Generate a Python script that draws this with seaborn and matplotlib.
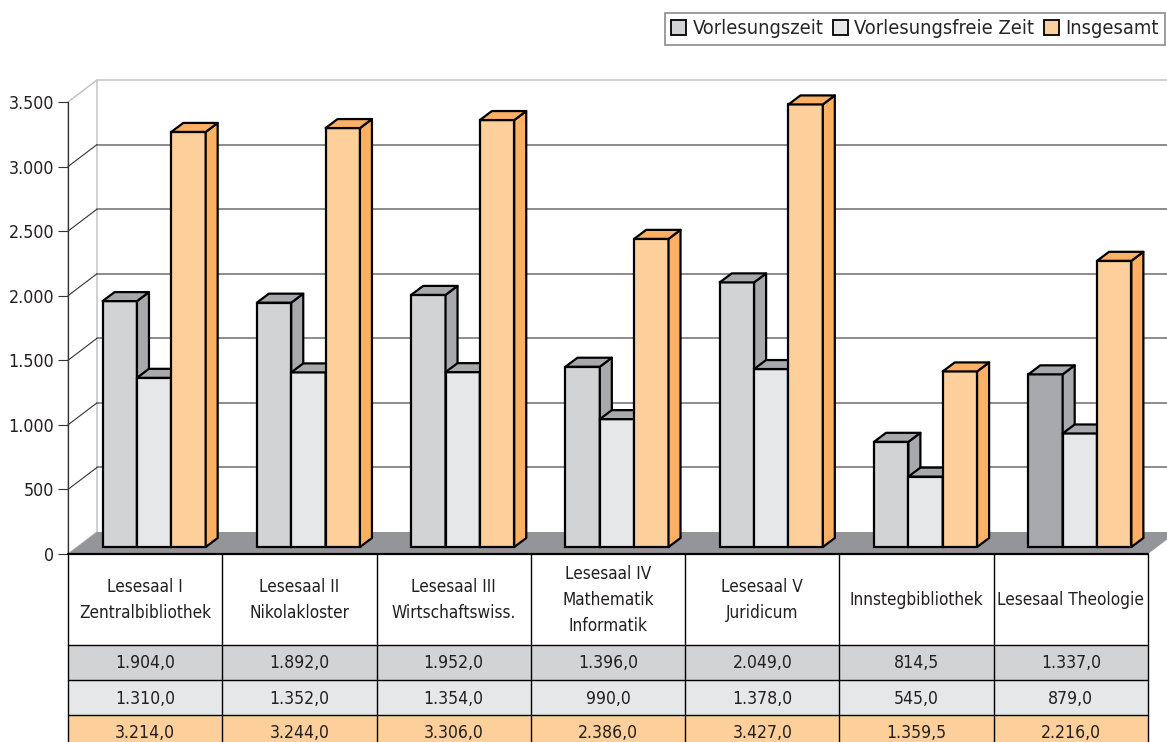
#!/usr/bin/env python3
"""
Lesesaal-Nutzung: Vorlesungszeit / vorlesungsfreie Zeit / insgesamt,
3D-Saeulen im Excel-Stil mit Datentabelle darunter
"""

import numpy as np
import pandas as pd
import matplotlib
matplotlib.use("Agg")
import matplotlib.pyplot as plt
from matplotlib.patches import Polygon, Patch, Rectangle
from matplotlib.ticker import FuncFormatter
import seaborn as sns

# data
categories = [
    "Lesesaal I\nZentralbibliothek",
    "Lesesaal II\nNikolakloster",
    "Lesesaal III\nWirtschaftswiss.",
    "Lesesaal IV\nMathematik\nInformatik",
    "Lesesaal V\nJuridicum",
    "Innstegbibliothek",
    "Lesesaal Theologie",
]
series = ["Vorlesungszeit", "Vorlesungsfreie Zeit", "Insgesamt"]
vorlesungszeit = [1904.0, 1892.0, 1952.0, 1396.0, 2049.0, 814.5, 1337.0]
vorlesungsfrei = [1310.0, 1352.0, 1354.0, 990.0, 1378.0, 545.0, 879.0]
insgesamt = [3214.0, 3244.0, 3306.0, 2386.0, 3427.0, 1359.5, 2216.0]
y_ticks = [0, 500, 1000, 1500, 2000, 2500, 3000, 3500]

front_colors = ["#d1d3d4", "#e6e7e8", "#fdd09b"]
shade_colors = ["#a7a9ac", "#a7a9ac", "#fbb063"]


def de_num(v, dec=1):
    s = f"{v:,.{dec}f}"
    return s.replace(",", "X").replace(".", ",").replace("X", ".")


def create_chart():
    sns.set_style("white")
    # condensed face, close to the narrow font of the original
    plt.rcParams['font.family'] = ['DejaVu Sans']
    plt.rcParams['font.stretch'] = 'condensed'

    W, H = 1167, 742
    fig = plt.figure(figsize=(W / 100, H / 100), dpi=100)

    # pixel layout of the front plane
    x_left, x_right, y_zero, y_top = 68, 1148, 554, 102
    ymax = 3500
    ax = fig.add_axes([x_left / W, 1 - y_zero / H, (x_right - x_left) / W, (y_zero - y_top) / H])

    ux = 7 / (x_right - x_left)      # categories per pixel
    uy = ymax / (y_zero - y_top)     # values per pixel

    def px(dx, dy):
        return dx * ux, dy * uy

    wdx, wdy = px(29, 22)   # wall depth
    bsx, bsy = px(9, 7)     # bars sit a bit back
    bdx, bdy = px(12, 9)    # bar depth

    df = pd.DataFrame({
        'Ort': categories * 3,
        'Serie': [series[0]] * 7 + [series[1]] * 7 + [series[2]] * 7,
        'Wert': vorlesungszeit + vorlesungsfrei + insgesamt,
    })

    sns.barplot(data=df, x='Ort', y='Wert', hue='Serie', order=categories, hue_order=series,
                palette=front_colors, saturation=1, width=0.668, edgecolor='black',
                linewidth=1.6, legend=False, ax=ax)

    ax.set_xlim(-0.5, 6.5)
    ax.set_ylim(0, ymax)
    ax.set_xlabel('')
    ax.set_ylabel('')
    ax.set_xticks([])
    ax.set_yticks(y_ticks)
    ax.yaxis.set_major_formatter(FuncFormatter(lambda v, p: de_num(v, 0)))
    ax.tick_params(axis='y', direction='out', length=7.5, width=0.8, color='#333333',
                   pad=2.5, labelsize=12.8, labelcolor='#231f20', left=True)
    for s in ['top', 'right', 'bottom']:
        ax.spines[s].set_visible(False)
    ax.spines['left'].set_color('#333333')
    ax.spines['left'].set_linewidth(0.9)
    ax.spines['left'].set_zorder(6)
    ax.patch.set_visible(False)

    # floor
    x0, x1 = -0.5, 6.5
    ax.add_patch(Polygon([(x0, 0), (x1, 0), (x1 + wdx, wdy), (x0 + wdx, wdy)],
                         closed=True, facecolor='#939598', edgecolor='none',
                         zorder=1, clip_on=False))
    # left side wall and back wall outline
    ax.add_patch(Polygon([(x0, 0), (x0 + wdx, wdy), (x0 + wdx, ymax + wdy), (x0, ymax)],
                         closed=True, facecolor='white', edgecolor='#bcbec0',
                         linewidth=1, zorder=0.5, clip_on=False))
    ax.plot([x0 + wdx, x1 + wdx], [ymax + wdy, ymax + wdy], color='#c8c9cb',
            linewidth=1.2, zorder=1, clip_on=False)

    # gridlines on back wall, diagonals on side wall
    for v in y_ticks[1:-1]:
        ax.plot([x0 + wdx, x1 + wdx], [v + wdy, v + wdy], color='#6d6e71',
                linewidth=1.1, zorder=1, clip_on=False)
        ax.plot([x0, x0 + wdx], [v, v + wdy], color='#333333',
                linewidth=0.8, zorder=1, clip_on=False)

    # 3D bars: shift front face back, add side and top faces
    for i, cont in enumerate(ax.containers):
        for j, bar in enumerate(cont.patches):
            bar.set_x(bar.get_x() + bsx)
            bar.set_y(bsy)
            bar.set_zorder(3 + i)
            fc_shade = shade_colors[i]
            if i == 0 and j == len(categories) - 1:
                bar.set_facecolor('#a7a9ac')
            bx0 = bar.get_x()
            bx1 = bx0 + bar.get_width()
            by0 = bar.get_y()
            by1 = by0 + bar.get_height()
            side = Polygon([(bx1, by0), (bx1 + bdx, by0 + bdy), (bx1 + bdx, by1 + bdy), (bx1, by1)],
                           closed=True, facecolor=fc_shade, edgecolor='black',
                           linewidth=1.6, joinstyle='round', zorder=3 + i, clip_on=False)
            top = Polygon([(bx0, by1), (bx1, by1), (bx1 + bdx, by1 + bdy), (bx0 + bdx, by1 + bdy)],
                          closed=True, facecolor=fc_shade, edgecolor='black',
                          linewidth=1.6, joinstyle='round', zorder=3 + i, clip_on=False)
            ax.add_patch(side)
            ax.add_patch(top)
            bar.set_clip_on(False)

    # data table
    th = H - y_zero
    ax_t = fig.add_axes([x_left / W, 0, (x_right - x_left) / W, th / H])
    ax_t.set_xlim(-0.5, 6.5)
    ax_t.set_ylim(th, 0)
    ax_t.axis('off')

    row_edges = [0, 91, 126, 161, 196]
    rows = [vorlesungszeit, vorlesungsfrei, insgesamt]
    for r, (vals, col) in enumerate(zip(rows, front_colors)):
        top_y = row_edges[r + 1]
        ax_t.add_patch(Rectangle((-0.5, top_y), 7, row_edges[r + 2] - top_y,
                                 facecolor=col, edgecolor='none', zorder=0))
        for j, v in enumerate(vals):
            ax_t.text(j, (top_y + row_edges[r + 2]) / 2 + 1, de_num(v), ha='center', va='center',
                      fontsize=12.6, color='#231f20')
    for j, cat in enumerate(categories):
        ax_t.text(j, 46, cat, ha='center', va='center', fontsize=12.3,
                  color='#231f20', linespacing=1.55)

    for yy in row_edges[:-1]:
        ax_t.plot([-0.5, 6.5], [yy, yy], color='black', linewidth=1.6 if yy == 0 else 1.0,
                  clip_on=False, zorder=2)
    for xx in np.arange(-0.5, 7.0, 1.0):
        ax_t.plot([xx, xx], [0, th], color='black', linewidth=1.0, clip_on=False, zorder=2)

    # legend
    handles = [Patch(facecolor=c, edgecolor='black', linewidth=1.3) for c in front_colors]
    leg = fig.legend(handles, series, loc='upper left', bbox_to_anchor=(665 / W, 1 - 13 / H),
                     ncol=3, fontsize=14.4, frameon=True, fancybox=False, edgecolor='#6d6e71',
                     borderaxespad=0, borderpad=0.32, handlelength=0.75, handleheight=0.75,
                     handletextpad=0.3, columnspacing=0.5)
    leg.get_frame().set_linewidth(1.2)

    fig.savefig('out.png', dpi=100)


if __name__ == "__main__":
    create_chart()
